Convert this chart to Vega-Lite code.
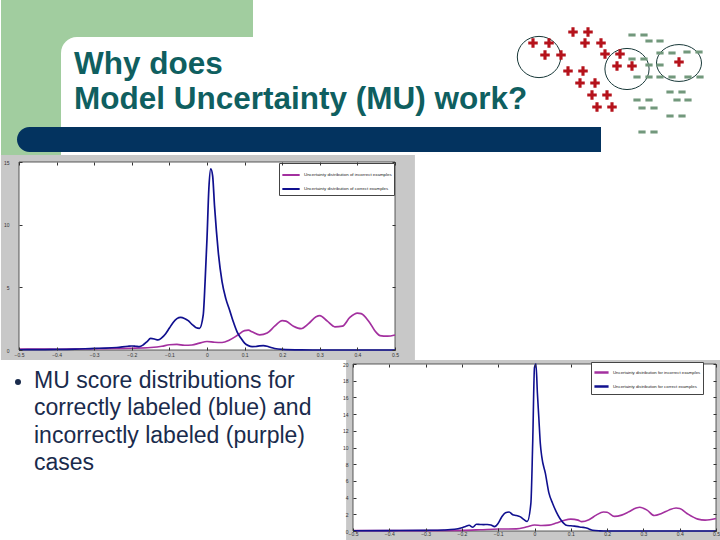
{
  "$schema": "https://vega.github.io/schema/vega-lite/v6.json",
  "background": "white",
  "padding": 0,
  "autosize": {"type": "pad"},
  "config": {"view": {"stroke": null}, "font": "Liberation Sans"},
  "spacing": 14,
  "bounds": "flush",
  "datasets": {
    "pos": [
      {"a": 572, "b": 32}, {"a": 587, "b": 32},
      {"a": 532, "b": 43}, {"a": 548, "b": 43},
      {"a": 584, "b": 43}, {"a": 600, "b": 43},
      {"a": 544, "b": 55}, {"a": 560, "b": 55},
      {"a": 604, "b": 54}, {"a": 619, "b": 54},
      {"a": 567, "b": 71}, {"a": 582, "b": 71},
      {"a": 616, "b": 66}, {"a": 631, "b": 66},
      {"a": 678, "b": 62},
      {"a": 579, "b": 83}, {"a": 594, "b": 83},
      {"a": 591, "b": 95}, {"a": 606, "b": 95},
      {"a": 596, "b": 107}, {"a": 611, "b": 107}
    ],
    "neg": [
      {"a": 631, "b": 35}, {"a": 643, "b": 35},
      {"a": 648, "b": 41}, {"a": 659, "b": 41},
      {"a": 659, "b": 53}, {"a": 671, "b": 53},
      {"a": 686, "b": 52}, {"a": 698, "b": 52},
      {"a": 631, "b": 59}, {"a": 643, "b": 59},
      {"a": 648, "b": 65}, {"a": 659, "b": 65},
      {"a": 636, "b": 77}, {"a": 648, "b": 77},
      {"a": 659, "b": 77}, {"a": 671, "b": 77},
      {"a": 687, "b": 77}, {"a": 699, "b": 77},
      {"a": 669, "b": 92}, {"a": 681, "b": 92},
      {"a": 636, "b": 100}, {"a": 648, "b": 100},
      {"a": 676, "b": 100}, {"a": 687, "b": 100},
      {"a": 641, "b": 108}, {"a": 653, "b": 108},
      {"a": 669, "b": 116}, {"a": 681, "b": 116},
      {"a": 641, "b": 132}, {"a": 653, "b": 132}
    ],
    "clusters": [
      {"a": 538, "b": 57, "cluster": "A"},
      {"a": 626, "b": 69, "cluster": "B"},
      {"a": 678, "b": 63, "cluster": "C"}
    ],
    "bullet": [
      {"line": 1, "text": "MU score distributions for"},
      {"line": 2, "text": "correctly labeled (blue) and"},
      {"line": 3, "text": "incorrectly labeled (purple)"},
      {"line": 4, "text": "cases"}
    ],
    "mu1": [
      {"g": "incorrect", "x": -0.5, "d": 0.08}, {"g": "incorrect", "x": -0.45, "d": 0.07}, {"g": "incorrect", "x": -0.4, "d": 0.06},
      {"g": "incorrect", "x": -0.35, "d": 0.08}, {"g": "incorrect", "x": -0.3, "d": 0.1}, {"g": "incorrect", "x": -0.25, "d": 0.12},
      {"g": "incorrect", "x": -0.2, "d": 0.14}, {"g": "incorrect", "x": -0.15, "d": 0.2}, {"g": "incorrect", "x": -0.12, "d": 0.3},
      {"g": "incorrect", "x": -0.1, "d": 0.42}, {"g": "incorrect", "x": -0.08, "d": 0.45}, {"g": "incorrect", "x": -0.06, "d": 0.38},
      {"g": "incorrect", "x": -0.04, "d": 0.4}, {"g": "incorrect", "x": -0.02, "d": 0.55}, {"g": "incorrect", "x": 0.0, "d": 0.68},
      {"g": "incorrect", "x": 0.02, "d": 0.62}, {"g": "incorrect", "x": 0.04, "d": 0.6}, {"g": "incorrect", "x": 0.06, "d": 0.8},
      {"g": "incorrect", "x": 0.08, "d": 1.15}, {"g": "incorrect", "x": 0.1, "d": 1.55}, {"g": "incorrect", "x": 0.11, "d": 1.58},
      {"g": "incorrect", "x": 0.12, "d": 1.45}, {"g": "incorrect", "x": 0.14, "d": 1.2}, {"g": "incorrect", "x": 0.16, "d": 1.35},
      {"g": "incorrect", "x": 0.18, "d": 1.9}, {"g": "incorrect", "x": 0.2, "d": 2.35}, {"g": "incorrect", "x": 0.21, "d": 2.3},
      {"g": "incorrect", "x": 0.23, "d": 1.9}, {"g": "incorrect", "x": 0.25, "d": 1.7}, {"g": "incorrect", "x": 0.27, "d": 2.1},
      {"g": "incorrect", "x": 0.29, "d": 2.65}, {"g": "incorrect", "x": 0.3, "d": 2.75}, {"g": "incorrect", "x": 0.32, "d": 2.3},
      {"g": "incorrect", "x": 0.34, "d": 1.85}, {"g": "incorrect", "x": 0.36, "d": 1.9}, {"g": "incorrect", "x": 0.38, "d": 2.6},
      {"g": "incorrect", "x": 0.4, "d": 2.95}, {"g": "incorrect", "x": 0.41, "d": 2.9}, {"g": "incorrect", "x": 0.43, "d": 2.3},
      {"g": "incorrect", "x": 0.45, "d": 1.4}, {"g": "incorrect", "x": 0.46, "d": 1.15}, {"g": "incorrect", "x": 0.48, "d": 1.1},
      {"g": "incorrect", "x": 0.5, "d": 1.2},
      {"g": "correct", "x": -0.5, "d": 0.02}, {"g": "correct", "x": -0.45, "d": 0.03}, {"g": "correct", "x": -0.4, "d": 0.05},
      {"g": "correct", "x": -0.35, "d": 0.07}, {"g": "correct", "x": -0.3, "d": 0.13}, {"g": "correct", "x": -0.27, "d": 0.15},
      {"g": "correct", "x": -0.24, "d": 0.2}, {"g": "correct", "x": -0.21, "d": 0.3}, {"g": "correct", "x": -0.2, "d": 0.32},
      {"g": "correct", "x": -0.19, "d": 0.3}, {"g": "correct", "x": -0.18, "d": 0.27}, {"g": "correct", "x": -0.17, "d": 0.4},
      {"g": "correct", "x": -0.16, "d": 0.65}, {"g": "correct", "x": -0.15, "d": 0.92}, {"g": "correct", "x": -0.14, "d": 0.88},
      {"g": "correct", "x": -0.13, "d": 0.8}, {"g": "correct", "x": -0.12, "d": 0.98}, {"g": "correct", "x": -0.11, "d": 1.3},
      {"g": "correct", "x": -0.1, "d": 1.75}, {"g": "correct", "x": -0.09, "d": 2.2}, {"g": "correct", "x": -0.08, "d": 2.5},
      {"g": "correct", "x": -0.07, "d": 2.6}, {"g": "correct", "x": -0.06, "d": 2.52}, {"g": "correct", "x": -0.05, "d": 2.34},
      {"g": "correct", "x": -0.04, "d": 2.05}, {"g": "correct", "x": -0.03, "d": 1.8}, {"g": "correct", "x": -0.02, "d": 1.73},
      {"g": "correct", "x": -0.01, "d": 2.8}, {"g": "correct", "x": -0.005, "d": 5.5}, {"g": "correct", "x": 0.0, "d": 8.9},
      {"g": "correct", "x": 0.005, "d": 12.9}, {"g": "correct", "x": 0.01, "d": 14.45}, {"g": "correct", "x": 0.015, "d": 13.9},
      {"g": "correct", "x": 0.02, "d": 11.5}, {"g": "correct", "x": 0.025, "d": 9.5}, {"g": "correct", "x": 0.03, "d": 7.8},
      {"g": "correct", "x": 0.04, "d": 5.45}, {"g": "correct", "x": 0.05, "d": 4.1}, {"g": "correct", "x": 0.06, "d": 3.2},
      {"g": "correct", "x": 0.07, "d": 2.25}, {"g": "correct", "x": 0.08, "d": 1.45}, {"g": "correct", "x": 0.09, "d": 0.95},
      {"g": "correct", "x": 0.1, "d": 0.55}, {"g": "correct", "x": 0.11, "d": 0.35}, {"g": "correct", "x": 0.12, "d": 0.27},
      {"g": "correct", "x": 0.13, "d": 0.28}, {"g": "correct", "x": 0.14, "d": 0.33}, {"g": "correct", "x": 0.15, "d": 0.35},
      {"g": "correct", "x": 0.16, "d": 0.3}, {"g": "correct", "x": 0.17, "d": 0.2}, {"g": "correct", "x": 0.18, "d": 0.12},
      {"g": "correct", "x": 0.2, "d": 0.05}, {"g": "correct", "x": 0.25, "d": 0.01}, {"g": "correct", "x": 0.3, "d": 0.0},
      {"g": "correct", "x": 0.4, "d": 0.0}, {"g": "correct", "x": 0.5, "d": 0.0}
    ],
    "mu2": [
      {"g": "incorrect", "x": -0.5, "d": 0.05}, {"g": "incorrect", "x": -0.4, "d": 0.05}, {"g": "incorrect", "x": -0.3, "d": 0.05},
      {"g": "incorrect", "x": -0.2, "d": 0.08}, {"g": "incorrect", "x": -0.15, "d": 0.15}, {"g": "incorrect", "x": -0.1, "d": 0.24},
      {"g": "incorrect", "x": -0.05, "d": 0.25}, {"g": "incorrect", "x": -0.02, "d": 0.5}, {"g": "incorrect", "x": 0.0, "d": 0.72},
      {"g": "incorrect", "x": 0.02, "d": 0.66}, {"g": "incorrect", "x": 0.04, "d": 0.7}, {"g": "incorrect", "x": 0.06, "d": 0.95},
      {"g": "incorrect", "x": 0.08, "d": 1.25}, {"g": "incorrect", "x": 0.1, "d": 1.42}, {"g": "incorrect", "x": 0.12, "d": 1.3},
      {"g": "incorrect", "x": 0.13, "d": 1.12}, {"g": "incorrect", "x": 0.15, "d": 1.35}, {"g": "incorrect", "x": 0.17, "d": 1.9},
      {"g": "incorrect", "x": 0.19, "d": 2.28}, {"g": "incorrect", "x": 0.2, "d": 2.25}, {"g": "incorrect", "x": 0.22, "d": 1.75},
      {"g": "incorrect", "x": 0.24, "d": 1.9}, {"g": "incorrect", "x": 0.26, "d": 2.3}, {"g": "incorrect", "x": 0.28, "d": 2.75},
      {"g": "incorrect", "x": 0.29, "d": 2.84}, {"g": "incorrect", "x": 0.31, "d": 2.5}, {"g": "incorrect", "x": 0.33, "d": 1.85},
      {"g": "incorrect", "x": 0.35, "d": 2.1}, {"g": "incorrect", "x": 0.37, "d": 2.5}, {"g": "incorrect", "x": 0.39, "d": 2.75},
      {"g": "incorrect", "x": 0.4, "d": 2.7}, {"g": "incorrect", "x": 0.42, "d": 2.1}, {"g": "incorrect", "x": 0.45, "d": 1.42},
      {"g": "incorrect", "x": 0.47, "d": 1.3}, {"g": "incorrect", "x": 0.5, "d": 1.5},
      {"g": "correct", "x": -0.5, "d": 0.03}, {"g": "correct", "x": -0.4, "d": 0.05}, {"g": "correct", "x": -0.3, "d": 0.08},
      {"g": "correct", "x": -0.25, "d": 0.12}, {"g": "correct", "x": -0.22, "d": 0.2}, {"g": "correct", "x": -0.2, "d": 0.4},
      {"g": "correct", "x": -0.19, "d": 0.55}, {"g": "correct", "x": -0.18, "d": 0.68}, {"g": "correct", "x": -0.17, "d": 0.45},
      {"g": "correct", "x": -0.16, "d": 0.8}, {"g": "correct", "x": -0.15, "d": 0.78}, {"g": "correct", "x": -0.14, "d": 0.76},
      {"g": "correct", "x": -0.13, "d": 0.78}, {"g": "correct", "x": -0.12, "d": 0.72}, {"g": "correct", "x": -0.11, "d": 0.52},
      {"g": "correct", "x": -0.1, "d": 0.92}, {"g": "correct", "x": -0.09, "d": 1.7}, {"g": "correct", "x": -0.08, "d": 2.2},
      {"g": "correct", "x": -0.07, "d": 2.28}, {"g": "correct", "x": -0.06, "d": 1.95}, {"g": "correct", "x": -0.05, "d": 1.85},
      {"g": "correct", "x": -0.04, "d": 1.72}, {"g": "correct", "x": -0.03, "d": 1.4}, {"g": "correct", "x": -0.02, "d": 1.15},
      {"g": "correct", "x": -0.01, "d": 3.3}, {"g": "correct", "x": -0.005, "d": 10.5}, {"g": "correct", "x": 0.0, "d": 19.6},
      {"g": "correct", "x": 0.004, "d": 20.0}, {"g": "correct", "x": 0.008, "d": 16.5}, {"g": "correct", "x": 0.012, "d": 13.5},
      {"g": "correct", "x": 0.016, "d": 10.5}, {"g": "correct", "x": 0.02, "d": 8.9}, {"g": "correct", "x": 0.03, "d": 6.9},
      {"g": "correct", "x": 0.04, "d": 4.5}, {"g": "correct", "x": 0.05, "d": 3.3}, {"g": "correct", "x": 0.06, "d": 2.3},
      {"g": "correct", "x": 0.07, "d": 1.5}, {"g": "correct", "x": 0.08, "d": 0.95}, {"g": "correct", "x": 0.09, "d": 0.65},
      {"g": "correct", "x": 0.1, "d": 0.62}, {"g": "correct", "x": 0.11, "d": 0.58}, {"g": "correct", "x": 0.12, "d": 0.52},
      {"g": "correct", "x": 0.13, "d": 0.45}, {"g": "correct", "x": 0.14, "d": 0.4}, {"g": "correct", "x": 0.15, "d": 0.25},
      {"g": "correct", "x": 0.16, "d": 0.08}, {"g": "correct", "x": 0.18, "d": 0.02}, {"g": "correct", "x": 0.2, "d": 0.0},
      {"g": "correct", "x": 0.3, "d": 0.0}, {"g": "correct", "x": 0.4, "d": 0.0}, {"g": "correct", "x": 0.5, "d": 0.0}
    ]
  },
  "vconcat": [
    {
      "width": 702,
      "height": 148,
      "layer": [
        {
          "data": {"values": [{}]},
          "mark": {"type": "rect", "color": "#a1cd9f"},
          "encoding": {
            "x": {"datum": 0, "type": "quantitative", "scale": {"domain": [18, 720], "nice": false, "zero": false}, "axis": null},
            "x2": {"datum": 252},
            "y": {"datum": 0, "type": "quantitative", "scale": {"domain": [0, 148], "nice": false, "zero": false, "reverse": true}, "axis": null},
            "y2": {"datum": 156}
          }
        },
        {
          "data": {"values": [{}]},
          "mark": {"type": "rect", "color": "white", "cornerRadiusTopLeft": 16},
          "encoding": {
            "x": {"datum": 60, "type": "quantitative", "axis": null},
            "x2": {"datum": 720},
            "y": {"datum": 37, "type": "quantitative", "axis": null},
            "y2": {"datum": 160}
          }
        },
        {
          "data": {"values": [{}]},
          "mark": {"type": "rect", "color": "#03335f", "cornerRadiusTopLeft": 12.5, "cornerRadiusBottomLeft": 12.5},
          "encoding": {
            "x": {"datum": 16, "type": "quantitative", "axis": null},
            "x2": {"datum": 600},
            "y": {"datum": 127, "type": "quantitative", "axis": null},
            "y2": {"datum": 152}
          }
        },
        {
          "data": {"values": [{}]},
          "mark": {"type": "text", "text": ["Why does", "Model Uncertainty (MU) work?"], "align": "left", "baseline": "alphabetic", "fontSize": 31.5, "fontWeight": "bold", "color": "#0f5f60", "lineHeight": 35, "font": "Liberation Sans"},
          "encoding": {
            "x": {"datum": 73, "type": "quantitative", "axis": null},
            "y": {"datum": 74, "type": "quantitative", "axis": null}
          }
        },
        {
          "data": {"name": "clusters"},
          "mark": {"type": "point", "filled": false, "stroke": "#183838", "strokeWidth": 1, "opacity": 1},
          "encoding": {
            "x": {"field": "a", "type": "quantitative", "axis": null},
            "y": {"field": "b", "type": "quantitative", "axis": null},
            "shape": {"field": "cluster", "type": "nominal", "legend": null, "scale": {"domain": ["A", "B", "C"], "range": ["M-1,0A1,0.95,0,1,0,1,0A1,0.95,0,1,0,-1,0Z", "M-1,0A1,0.93,0,1,0,1,0A1,0.93,0,1,0,-1,0Z", "M-1,0A1,0.82,0,1,0,1,0A1,0.82,0,1,0,-1,0Z"]}},
            "size": {"field": "cluster", "type": "nominal", "legend": null, "scale": {"domain": ["A", "B", "C"], "range": [1884, 2025, 1340]}}
          }
        },
        {
          "data": {"name": "pos"},
          "mark": {"type": "point", "filled": true, "color": "#b5121b", "opacity": 1, "size": 90, "shape": "M-1,-0.33H-0.33V-1H0.33V-0.33H1V0.33H0.33V1H-0.33V0.33H-1Z"},
          "encoding": {
            "x": {"field": "a", "type": "quantitative", "axis": null},
            "y": {"field": "b", "type": "quantitative", "axis": null}
          }
        },
        {
          "data": {"name": "neg"},
          "mark": {"type": "point", "filled": true, "color": "#72987c", "opacity": 1, "size": 52, "shape": "M-1,-0.42H1V0.42H-1Z"},
          "encoding": {
            "x": {"field": "a", "type": "quantitative", "axis": null},
            "y": {"field": "b", "type": "quantitative", "axis": null}
          }
        }
      ]
    },
    {
      "width": 376,
      "height": 188,
      "layer": [
        {
          "data": {"values": [{}]},
          "mark": {"type": "rect", "color": "#c8c8c8"},
          "encoding": {
            "x": {"datum": -0.548, "type": "quantitative", "scale": {"domain": [-0.5, 0.5], "nice": false, "zero": false}, "axis": null},
            "x2": {"datum": 0.553},
            "y": {"datum": -0.8, "type": "quantitative", "scale": {"domain": [0, 15], "nice": false, "zero": false}, "axis": null},
            "y2": {"datum": 15.56}
          }
        },
        {
          "data": {"values": [{}]},
          "mark": {"type": "rect", "fill": "white", "stroke": "#333333", "strokeWidth": 0.8},
          "encoding": {
            "x": {"datum": -0.5, "type": "quantitative", "axis": {"orient": "top", "title": null, "labels": false, "domain": false, "grid": false, "values": [-0.5, -0.4, -0.3, -0.2, -0.1, 0, 0.1, 0.2, 0.3, 0.4, 0.5], "tickSize": -3, "tickColor": "#333333", "zindex": 1}},
            "x2": {"datum": 0.5},
            "y": {"datum": 0, "type": "quantitative", "axis": {"orient": "right", "title": null, "labels": false, "domain": false, "grid": false, "values": [0, 5, 10, 15], "tickSize": -3, "tickColor": "#333333", "zindex": 1}},
            "y2": {"datum": 15}
          }
        },
        {
          "data": {"name": "mu1"},
          "mark": {"type": "line", "strokeWidth": 1.7, "interpolate": "monotone"},
          "encoding": {
            "x": {"field": "x", "type": "quantitative", "axis": {"orient": "bottom", "title": null, "grid": false, "domain": false, "values": [-0.5, -0.4, -0.3, -0.2, -0.1, 0, 0.1, 0.2, 0.3, 0.4, 0.5], "format": "~g", "tickSize": -3, "tickColor": "#333333", "labelFontSize": 5, "labelColor": "#333333", "labelPadding": 5.5, "labelFlush": false, "labelOverlap": false, "zindex": 1}},
            "y": {"field": "d", "type": "quantitative", "axis": {"orient": "left", "title": null, "grid": false, "domain": false, "values": [0, 5, 10, 15], "tickSize": -3, "tickColor": "#333333", "labelFontSize": 5, "labelColor": "#333333", "labelPadding": 13, "labelFlush": false, "zindex": 1}},
            "color": {
              "field": "g", "type": "nominal",
              "scale": {"domain": ["incorrect", "correct"], "range": ["#a3309f", "#10108f"]},
              "legend": {"title": null, "orient": "top-right", "offset": 1, "padding": 2, "strokeColor": "#444444", "fillColor": "white", "labelFontSize": 4.4, "labelColor": "#222222", "symbolType": "stroke", "symbolStrokeWidth": 2, "symbolSize": 300, "rowPadding": 0, "labelOffset": 3, "cornerRadius": 0,
                "labelExpr": "datum.label == 'incorrect' ? 'Uncertainty distribution of incorrect examples' : 'Uncertainty distribution of correct examples'"}
            }
          }
        }
      ],
      "resolve": {"axis": {"x": "independent", "y": "independent"}}
    },
    {
      "hconcat": [
        {
          "width": 320,
          "height": 167,
          "layer": [
            {
              "data": {"name": "bullet"},
              "mark": {"type": "text", "align": "left", "baseline": "alphabetic", "fontSize": 23, "color": "#1a2b4c", "font": "Liberation Sans"},
              "encoding": {
                "x": {"datum": 33, "type": "quantitative", "scale": {"domain": [18, 338], "nice": false, "zero": false}, "axis": null},
                "y": {"field": "line", "type": "quantitative", "scale": {"domain": [0.122, 6.233], "nice": false, "zero": false, "reverse": true}, "axis": null},
                "text": {"field": "text"}
              }
            },
            {
              "data": {"values": [{}]},
              "mark": {"type": "point", "shape": "circle", "filled": true, "color": "#1a2b4c", "opacity": 1, "size": 36},
              "encoding": {
                "x": {"datum": 17, "type": "quantitative", "axis": null},
                "y": {"datum": 0.781, "type": "quantitative", "axis": null}
              }
            }
          ]
        },
        {
          "width": 363,
          "height": 167,
          "layer": [
            {
              "data": {"values": [{}]},
              "mark": {"type": "rect", "color": "#c8c8c8"},
              "encoding": {
                "x": {"datum": -0.519, "type": "quantitative", "scale": {"domain": [-0.5, 0.5], "nice": false, "zero": false}, "axis": null},
                "x2": {"datum": 0.5138},
                "y": {"datum": -1.08, "type": "quantitative", "scale": {"domain": [0, 20], "nice": false, "zero": false}, "axis": null},
                "y2": {"datum": 20.48}
              }
            },
            {
              "data": {"values": [{}]},
              "mark": {"type": "rect", "fill": "white", "stroke": "#333333", "strokeWidth": 0.8},
              "encoding": {
                "x": {"datum": -0.5, "type": "quantitative", "axis": {"orient": "top", "title": null, "labels": false, "domain": false, "grid": false, "values": [-0.5, -0.4, -0.3, -0.2, -0.1, 0, 0.1, 0.2, 0.3, 0.4, 0.5], "tickSize": -3, "tickColor": "#333333", "zindex": 1}},
                "x2": {"datum": 0.5},
                "y": {"datum": 0, "type": "quantitative", "axis": {"orient": "right", "title": null, "labels": false, "domain": false, "grid": false, "values": [0, 2, 4, 6, 8, 10, 12, 14, 16, 18, 20], "tickSize": -3, "tickColor": "#333333", "zindex": 1}},
                "y2": {"datum": 20}
              }
            },
            {
              "data": {"name": "mu2"},
              "mark": {"type": "line", "strokeWidth": 1.6, "interpolate": "monotone"},
              "encoding": {
                "x": {"field": "x", "type": "quantitative", "axis": {"orient": "bottom", "title": null, "grid": false, "domain": false, "values": [-0.5, -0.4, -0.3, -0.2, -0.1, 0, 0.1, 0.2, 0.3, 0.4, 0.5], "format": "~g", "tickSize": -3, "tickColor": "#333333", "labelFontSize": 5, "labelColor": "#333333", "labelPadding": 3.5, "labelFlush": false, "labelOverlap": false, "zindex": 1}},
                "y": {"field": "d", "type": "quantitative", "axis": {"orient": "left", "title": null, "grid": false, "domain": false, "values": [0, 2, 4, 6, 8, 10, 12, 14, 16, 18, 20], "tickSize": -3, "tickColor": "#333333", "labelFontSize": 5, "labelColor": "#333333", "labelPadding": 8, "labelFlush": false, "zindex": 1}},
                "color": {
                  "field": "g", "type": "nominal",
                  "scale": {"domain": ["incorrect", "correct"], "range": ["#b048b0", "#1414a0"]},
                  "legend": {"title": null, "orient": "none", "legendX": 572, "legendY": -2, "padding": 2, "strokeColor": "#444444", "fillColor": "white", "labelFontSize": 4.3, "labelColor": "#222222", "symbolType": "stroke", "symbolStrokeWidth": 2.5, "symbolSize": 200, "rowPadding": 0, "labelOffset": 3, "cornerRadius": 0,
                    "labelExpr": "datum.label == 'incorrect' ? 'Uncertainty distribution for incorrect examples' : 'Uncertainty distribution for correct examples'"}
                }
              }
            }
          ],
          "resolve": {"axis": {"x": "independent", "y": "independent"}}
        }
      ],
      "spacing": 14,
      "bounds": "flush"
    }
  ]
}
